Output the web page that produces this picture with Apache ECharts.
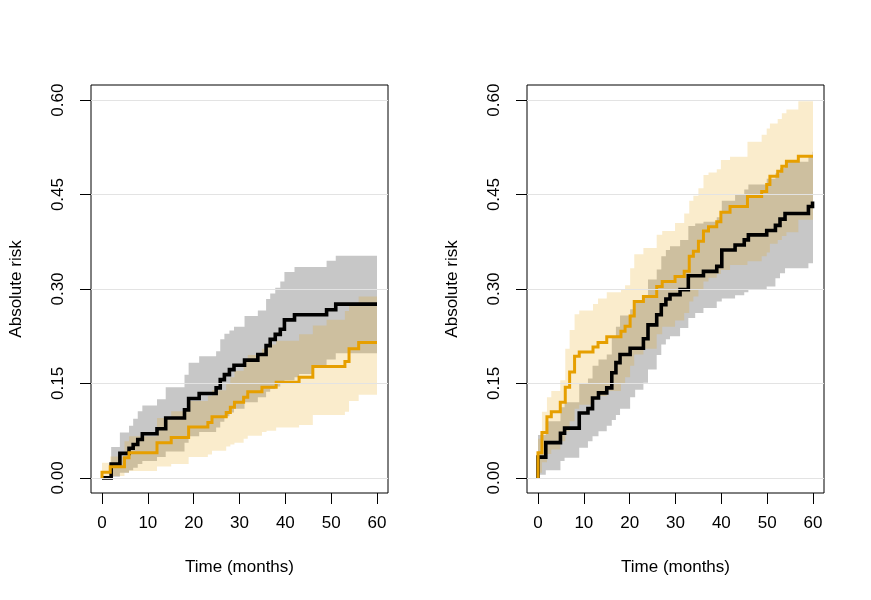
<!DOCTYPE html>
<html><head><meta charset="utf-8">
<script src="https://cdn.jsdelivr.net/npm/echarts@6/dist/echarts.min.js"></script>
<style>html,body{margin:0;padding:0;background:#fff}#c{width:871px;height:600px}</style>
</head><body><div id="c"></div>
<script>
// ---------- tick labels ----------
const xTicks = [0, 10, 20, 30, 40, 50, 60];
const yTicks = [0, 0.15, 0.30, 0.45, 0.60];
const xTitle = 'Time (months)';
const yTitle = 'Absolute risk';

// ---------- left panel : black group ----------
const leftBlackT   = [0, 2.0, 3.9, 5.9, 6.8, 7.8, 8.8, 12.0, 13.9, 18.0, 18.9, 21.2, 24.9, 25.8, 26.7, 27.8, 28.8, 31.1, 34.0, 35.8, 36.7, 37.8, 38.9, 39.8, 42.0, 43.0, 46.0, 49.0, 51.0, 60];
const leftBlackEst = [0, .022, .039, .047, .053, .061, .070, .078, .095, .108, .126, .134, .143, .156, .164, .172, .179, .187, .196, .210, .220, .228, .236, .251, .259, .259, .259, .267, .276, .276];
const leftBlackHi  = [0, .049, .072, .083, .094, .106, .115, .125, .144, .164, .183, .193, .201, .220, .229, .234, .240, .257, .266, .284, .293, .302, .312, .327, .335, .335, .335, .345, .353, .353];
const leftBlackLo  = [0, .002, .008, .012, .016, .022, .027, .033, .042, .056, .066, .073, .080, .089, .098, .104, .110, .120, .128, .137, .141, .145, .150, .155, .160, .165, .178, .188, .198, .198];

// ---------- left panel : orange group ----------
const leftOrangeT   = [0, 0, 1.8, 4.9, 5.9, 12.0, 15.1, 18.9, 23.1, 24.0, 27.1, 28.0, 28.9, 30.9, 31.8, 34.9, 35.9, 38.0, 43.0, 46.0, 49.0, 53.0, 53.9, 56.0, 60];
const leftOrangeEst = [0, .009, .0175, .032, .040, .056, .064, .081, .088, .097, .104, .112, .120, .128, .137, .144, .144, .152, .160, .177, .177, .185, .205, .215, .215];
const leftOrangeHi  = [0, .024, .034, .058, .066, .095, .106, .122, .130, .139, .150, .160, .170, .185, .195, .205, .212, .218, .228, .242, .251, .265, .275, .288, .288];
const leftOrangeLo  = [0, .001, .003, .008, .011, .018, .022, .033, .037, .043, .050, .053, .056, .062, .067, .073, .075, .080, .084, .100, .100, .105, .122, .132, .132];

// ---------- right panel : black group ----------
const rightBlackT   = [0, 0, 1.7, 4.9, 5.8, 9.0, 10.9, 11.9, 13.2, 15.0, 16.1, 17.0, 17.9, 20.1, 21.2, 23.0, 24.0, 25.9, 26.9, 27.9, 28.8, 31.0, 32.8, 34.3, 36.1, 39.0, 40.1, 43.0, 45.0, 45.9, 49.9, 51.8, 52.8, 53.9, 59.0, 59.9, 60];
const rightBlackEst = [0, .033, .056, .071, .079, .103, .110, .127, .135, .143, .167, .183, .196, .206, .206, .221, .243, .259, .275, .284, .291, .299, .321, .321, .328, .336, .362, .370, .378, .386, .393, .401, .411, .420, .431, .439, .439];
const rightBlackLo  = [0, .005, .012, .027, .032, .048, .058, .066, .074, .083, .092, .100, .110, .128, .140, .151, .172, .195, .212, .220, .225, .238, .254, .262, .270, .280, .285, .290, .295, .299, .304, .317, .325, .333, .341, .341, .341];
const rightBlackHi  = [0, .068, .090, .112, .120, .150, .158, .178, .188, .196, .222, .240, .258, .268, .278, .290, .315, .331, .352, .362, .368, .378, .400, .404, .407, .414, .440, .450, .458, .466, .475, .484, .492, .502, .512, .518, .518];

// ---------- right panel : orange group ----------
const rightOrangeT   = [0, 0, 0.86, 1.95, 2.9, 4.86, 5.95, 6.9, 7.98, 9.0, 12.0, 13.1, 15.0, 18.1, 19.0, 20.1, 21.0, 23.0, 25.9, 27.1, 29.9, 31.9, 33.0, 33.9, 35.0, 36.1, 37.2, 39.0, 39.9, 41.9, 45.7, 48.8, 49.9, 50.6, 52.3, 53.2, 54.2, 56.8, 60];
const rightOrangeEst = [0, .040, .072, .097, .105, .120, .144, .168, .193, .200, .208, .215, .224, .233, .241, .257, .280, .288, .304, .312, .320, .328, .352, .360, .376, .392, .399, .407, .422, .431, .447, .455, .466, .479, .487, .495, .503, .511, .511];
const rightOrangeHi  = [0, .062, .105, .128, .138, .155, .205, .235, .260, .266, .276, .285, .295, .300, .306, .333, .355, .365, .386, .392, .405, .420, .440, .448, .460, .481, .485, .490, .505, .510, .534, .545, .555, .563, .570, .579, .585, .598, .598];
const rightOrangeLo  = [0, .008, .025, .038, .045, .058, .074, .090, .110, .116, .124, .130, .138, .150, .160, .178, .196, .205, .228, .240, .250, .262, .280, .288, .300, .312, .318, .324, .330, .338, .344, .352, .358, .372, .378, .384, .390, .410, .412];

// ---------- styles ----------
const FONT = 'Liberation Sans, Arial, Helvetica, sans-serif';
const FS = 17;
const BLACK = '#000000';
const ORANGE = '#E69F00';
const GRAY_BAND = 'rgba(0,0,0,0.22)';
const ORANGE_BAND = 'rgba(230,159,0,0.2)';
const GRID_COLOR = '#e3e3e3';

const panels = [
  { black: [leftBlackT, leftBlackEst, leftBlackLo, leftBlackHi], orange: [leftOrangeT, leftOrangeEst, leftOrangeLo, leftOrangeHi] },
  { black: [rightBlackT, rightBlackEst, rightBlackLo, rightBlackHi], orange: [rightOrangeT, rightOrangeEst, rightOrangeLo, rightOrangeHi] }
];

function pairs(t, v) { return t.map((x, i) => [x, v[i]]); }

function bandSeries(p, T, lo, hi, color) {
  return {
    type: 'custom', xAxisIndex: p, yAxisIndex: p, silent: true, z: 2,
    data: [[T[0], lo[0]]],
    encode: { x: 0, y: 1 },
    renderItem: function (params, api) {
      const up = [], down = [];
      for (let i = 0; i < T.length - 1; i++) {
        up.push(api.coord([T[i], hi[i]]));
        up.push(api.coord([T[i + 1], hi[i]]));
        down.push(api.coord([T[i], lo[i]]));
        down.push(api.coord([T[i + 1], lo[i]]));
      }
      const pts = up.concat(down.reverse());
      return { type: 'polygon', shape: { points: pts }, style: { fill: color, stroke: null } };
    }
  };
}

function lineSeries(p, T, est, color, width) {
  return {
    type: 'line', xAxisIndex: p, yAxisIndex: p, step: 'end', symbol: 'none', silent: true, z: 4,
    data: pairs(T, est),
    lineStyle: { color: color, width: width, cap: 'butt', join: 'miter' },
    animation: false
  };
}

function gridLineSeries(p) {
  return {
    type: 'line', xAxisIndex: p, yAxisIndex: p, data: [], silent: true, z: 1,
    markLine: {
      silent: true, symbol: ['none', 'none'], animation: false,
      label: { show: false },
      lineStyle: { color: GRID_COLOR, width: 1, type: 'solid' },
      data: yTicks.map(v => ({ yAxis: v }))
    }
  };
}

const grids = [
  { left: 91, top: 85, width: 297, height: 408 },
  { left: 527, top: 85, width: 297, height: 408 }
];

const option = {
  animation: false,
  backgroundColor: '#ffffff',
  grid: grids.map(g => Object.assign({ show: true, borderColor: '#000', borderWidth: 1, backgroundColor: 'transparent', containLabel: false }, g)),
  xAxis: [0, 1].map(p => ({
    type: 'value', gridIndex: p, min: -2.4, max: 62.4, position: 'bottom',
    axisLine: { show: false, onZero: false },
    axisTick: { show: true, inside: false, length: 11, customValues: xTicks, lineStyle: { color: '#000', width: 1 } },
    axisLabel: { customValues: xTicks, color: '#000', fontSize: FS, fontFamily: FONT, margin: 22 },
    splitLine: { show: false },
    name: xTitle, nameLocation: 'middle', nameGap: 66,
    nameTextStyle: { color: '#000', fontSize: FS, fontFamily: FONT }
  })),
  yAxis: [0, 1].map(p => ({
    type: 'value', gridIndex: p, min: -0.024, max: 0.624, position: 'left',
    axisLine: { show: false, onZero: false },
    axisTick: { show: true, inside: false, length: 11, customValues: yTicks, lineStyle: { color: '#000', width: 1 } },
    axisLabel: { customValues: yTicks, color: '#000', fontSize: FS, fontFamily: FONT, margin: 24, rotate: 90,
      formatter: v => v.toFixed(2) },
    splitLine: { show: false },
    name: yTitle, nameLocation: 'middle', nameGap: 66, nameRotate: 90,
    nameTextStyle: { color: '#000', fontSize: FS, fontFamily: FONT }
  })),
  series: []
};

panels.forEach((pn, p) => {
  option.series.push(gridLineSeries(p));
  option.series.push(bandSeries(p, pn.black[0], pn.black[2], pn.black[3], GRAY_BAND));
  option.series.push(bandSeries(p, pn.orange[0], pn.orange[2], pn.orange[3], ORANGE_BAND));
  option.series.push(lineSeries(p, pn.black[0], pn.black[1], BLACK, 3.6));
  option.series.push(lineSeries(p, pn.orange[0], pn.orange[1], ORANGE, 3));
});

const chart = echarts.init(document.getElementById('c'), null, { renderer: 'canvas' });
chart.setOption(option);
</script>
</body></html>
